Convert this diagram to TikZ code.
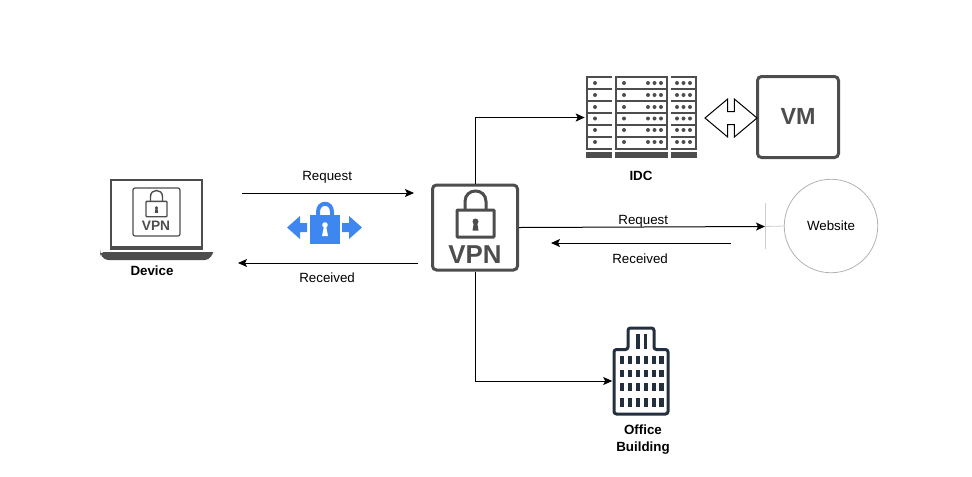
\documentclass[tikz,border=0pt]{standalone}
\usepackage{fontspec}
\usepackage{tikz}
\usepackage{xcolor}
\usetikzlibrary{shapes.arrows,arrows.meta}
\setmainfont{Liberation Sans}
\definecolor{icongray}{HTML}{4D4D4D}
\definecolor{lockblue}{HTML}{3F87F0}
\definecolor{towernavy}{HTML}{232F3E}
\newlength{\pxl}
\setlength{\pxl}{0.75pt}

\begin{document}
\begin{tikzpicture}[
        x=0.75pt,
        y=-0.75pt,
        arrow/.style={
            -{Stealth[length=6.75pt, width=6pt, inset=1.5pt]},
            line width=0.75pt
        },
        label/.style={
            font=\fontsize{10}{12}\selectfont
        },
        caption/.style={
            font=\fontsize{10}{12.5}\selectfont\bfseries,
            align=center
        },
        iconbox/.style={
            draw=icongray,
            rectangle,
            rounded corners=4\pxl,
            line width=3\pxl,
            minimum width=85\pxl,
            minimum height=85\pxl,
            inner sep=0pt,
            font=\fontsize{18}{20}\selectfont\bfseries,
            text=icongray
        },
        anchorbox/.style={
            rectangle,
            inner sep=0pt
        },
        stub/.style={
            draw=black!20,
            line width=0.6pt
        },
        rackbar/.style={
            draw=icongray,
            line width=2\pxl
        },
        rackdot/.style={
            circle,
            fill=icongray,
            inner sep=0pt,
            minimum size=4\pxl
        },
        pics/padlock/.style={
            code={
                \draw[rounded corners=0.6pt] (-18.5,-13.5) rectangle (18.5,13.5);
                \draw (-10.5,-13.5) -- (-10.5,-22) .. controls (-10.5,-36) and (10.5,-36) .. (10.5,-22) -- (10.5,-13.5);
                \fill (0,-2) circle (3);
                \fill (-1.5,-2) -- (1.5,-2) -- (3,7) -- (-3,7) -- cycle;
            }
        }
    ]
        \useasboundingbox (0,0) rectangle (972,476);

        % device
        \draw[icongray, line width=2\pxl, fill=white] (111,180) rectangle (202,247);
        \fill[icongray] (110,246) rectangle (203,250);
        \fill[icongray] (100,252) -- (213,252) -- (213,253) [rounded corners=4\pxl] -- (209,260) -- (104,260) -- (100,253) -- cycle;
        \draw[icongray, line width=1.2\pxl, rounded corners=2\pxl] (133,188) rectangle (180,236);
        \pic[icongray, line width=1.4\pxl, scale=0.57] at (156.5,209) {padlock};
        \node[anchorbox, text=icongray, font=\fontsize{10.3}{12}\selectfont\bfseries] (devicevpn) at (156,226) {VPN};
        \node[caption] (device) at (152,270.5) {Device};

        % tunnel icon
        \fill[lockblue] (310,215) rectangle (340,244);
        \draw[lockblue, line width=4\pxl] (318,216) -- (318,212) .. controls (318,201) and (332,201) .. (332,212) -- (332,216);
        \fill[white] (325,225) circle (2.8);
        \fill[white] (324,226) -- (326,226) -- (328,236) -- (322,236) -- cycle;
        \fill[lockblue] (287,227.5) -- (300,216) -- (300,223) -- (307,223) -- (307,232) -- (300,232) -- (300,239) -- cycle;
        \fill[lockblue] (362,227.5) -- (349,216) -- (349,223) -- (342,223) -- (342,232) -- (349,232) -- (349,239) -- cycle;

        % gateway
        \node[iconbox] (vpn) at (475,227.5) {};
        \pic[icongray, line width=3\pxl] at (475.5,223.5) {padlock};
        \node[anchorbox, text=icongray, font=\fontsize{19.4}{22}\selectfont\bfseries] (vpntext) at (475,254.5) {VPN};

        % server racks
        \node[anchorbox, minimum width=112\pxl, minimum height=82\pxl] (idc) at (641,117.5) {};
        \foreach \y in {77,89,101,113,125,137,149} {
            \draw[rackbar] (586,\y) -- (612,\y);
            \draw[rackbar] (615,\y) -- (668,\y);
            \draw[rackbar] (671,\y) -- (697,\y);
        }
        \draw[rackbar] (587,77) -- (587,149);
        \draw[rackbar] (616,77) -- (616,149);
        \draw[rackbar] (667,77) -- (667,149);
        \draw[rackbar] (696,77) -- (696,149);
        \foreach \y in {83,95,107,118.5,130,142} {
            \node[rackdot] at (595,\y) {};
            \node[rackdot] at (624,\y) {};
            \foreach \x in {648,654.5,661,677,683.5,690} {
                \node[rackdot] at (\x,\y) {};
            }
        }
        \fill[icongray] (586,152) rectangle (612,158);
        \fill[icongray] (615,152) rectangle (668,158);
        \fill[icongray] (671,152) rectangle (697,158);
        \node[caption] (idclabel) at (641,175.5) {IDC};

        % vm
        \node[iconbox, minimum width=81\pxl, minimum height=81\pxl, font=\fontsize{17.5}{20}\selectfont\bfseries] (vm) at (798,117) {\raisebox{1\pxl}{VM}};
        \node[draw=black, double arrow, double arrow tip angle=80, double arrow head extend=12.5\pxl,
            minimum height=52\pxl, minimum width=37\pxl, inner xsep=0pt, inner ysep=6\pxl, line width=0.75pt] (link) at (731,118) {};

        % website
        \node[circle, draw=black!30, minimum size=93.5\pxl, inner sep=0pt, line width=0.6pt, label] (website) at (831,226) {Website};
        \coordinate (webport) at (765,226.5);
        \draw[stub] (website.west) -- (webport);
        \draw[stub] (765,203) -- (765,249);

        % office
        \node[anchorbox, minimum width=57\pxl, minimum height=68\pxl] (office) at (641,381) {};
        \draw[towernavy, line width=3\pxl, rounded corners=2.5\pxl] (614,349.5) -- (628,349.5) -- (628,328) -- (654,328) -- (654,349.5) -- (668,349.5) -- (668,414) -- (614,414) -- cycle;
        \foreach \x in {619.5,627.5,635.5,643.5,651.5,659} {
            \fill[towernavy] (\x,356) rectangle ++(4.5,7.5);
            \fill[towernavy] (\x,369.5) rectangle ++(4.5,7.5);
            \fill[towernavy] (\x,383) rectangle ++(4.5,8);
            \fill[towernavy] (\x,398) rectangle ++(4.5,9);
        }
        \fill[towernavy] (636,334) rectangle ++(3.5,14.5);
        \fill[towernavy] (643.5,334) rectangle ++(3.5,14.5);
        \node[caption] (officelabel) at (643,439.5) {Office\\Building};

        % free ends
        \coordinate (reqstart) at (242,193);
        \coordinate (reqend) at (414,193);
        \coordinate (recstart) at (418,263);
        \coordinate (recend) at (238,263);
        \coordinate (backstart) at (731,243);
        \coordinate (backend) at (551,243);

        \draw[arrow] (reqstart) -- (reqend) node[pos=0.495, above=4.5\pxl, label] {Request};
        \draw[arrow] (recstart) -- (recend) node[pos=0.505, below=5\pxl, label] {Received};
        \draw[arrow] (vpn.east) -- (webport) node[pos=0.505, above=-5\pxl, label] {Request};
        \draw[arrow] (backstart) -- (backend) node[pos=0.505, below=6\pxl, label] {Received};
        \draw[arrow] (vpn.north) |- (idc.west);
        \draw[arrow] (vpn.south) |- (office.west);
    \end{tikzpicture}
\end{document}
